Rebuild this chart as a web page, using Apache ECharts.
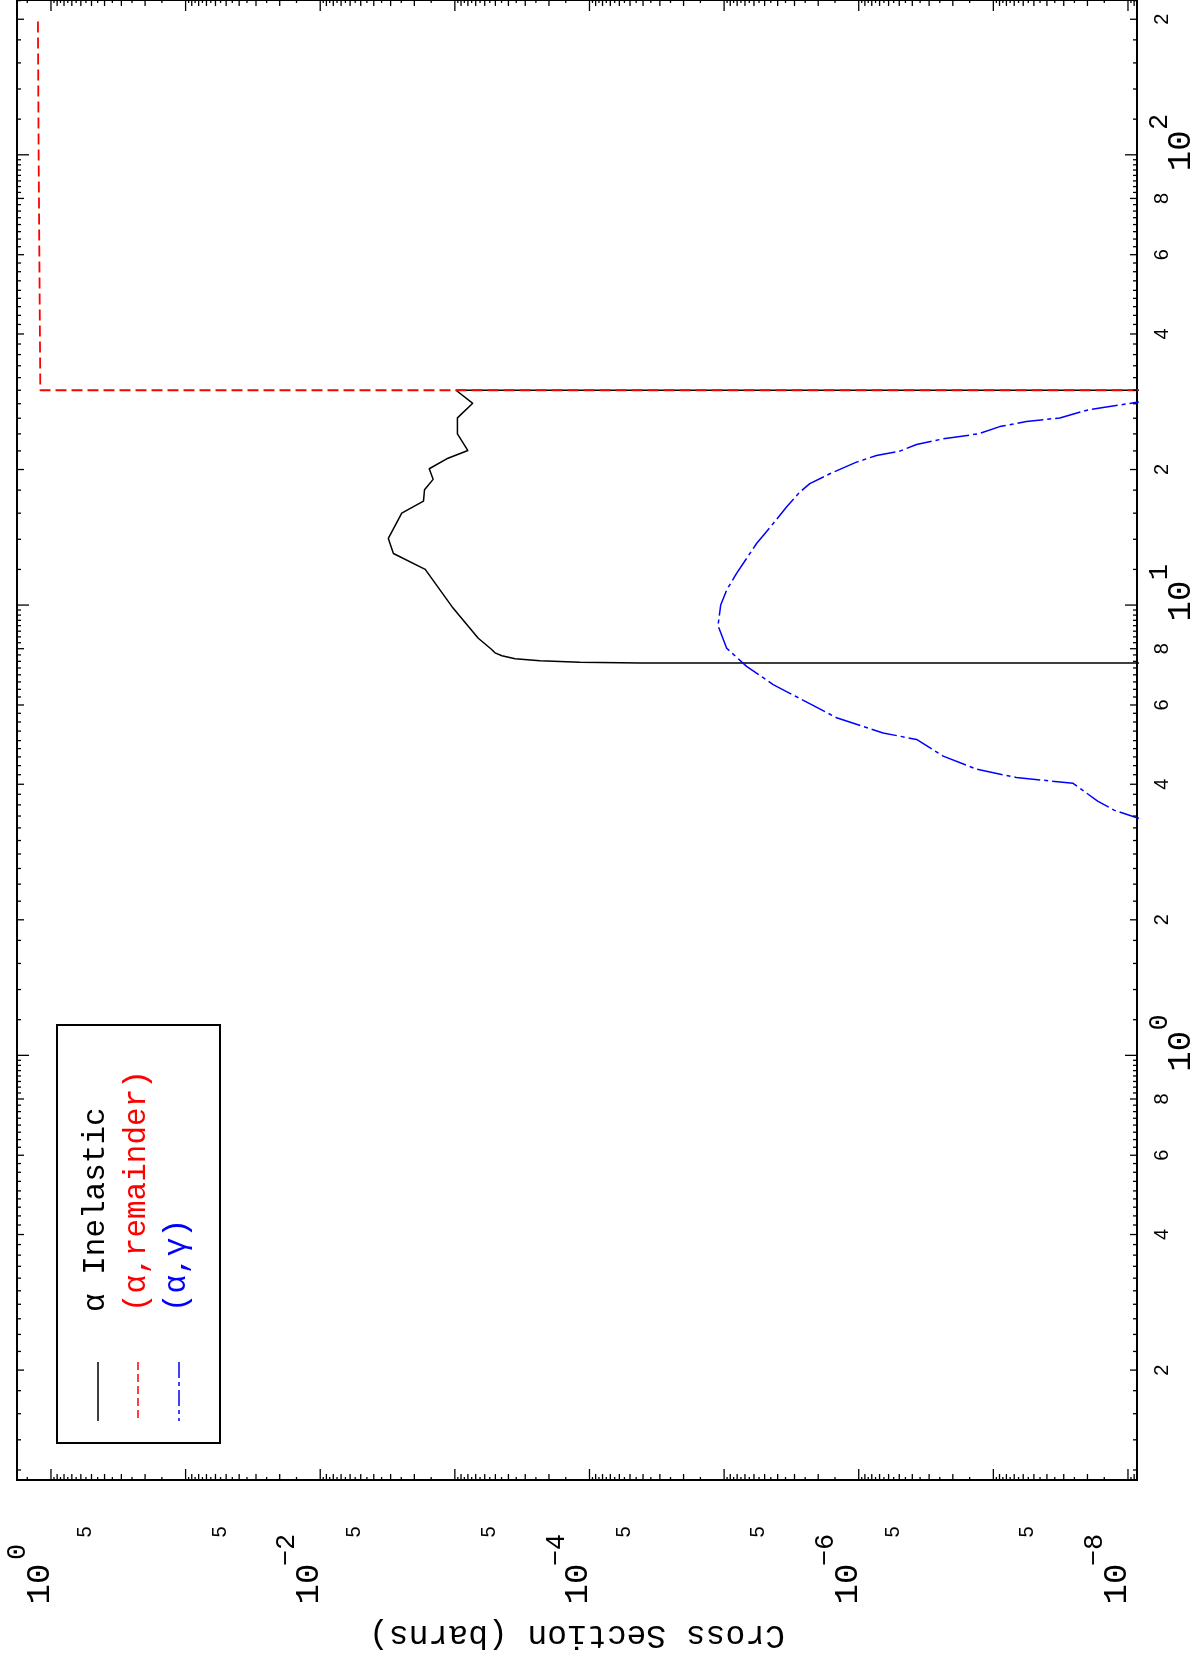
<!DOCTYPE html>
<html><head><meta charset="utf-8">
<script src="https://cdn.jsdelivr.net/npm/echarts@6/dist/echarts.min.js"></script>
<style>html,body{margin:0;padding:0;background:#fff}#c{width:1204px;height:1656px}</style>
</head><body><div id="c"></div>
<script>
// ---------------- data ----------------
// alpha inelastic (black, solid): energy (MeV) / cross section (barns)
const inelasticE  = [7.43, 7.434, 7.463, 7.521, 7.598, 7.715, 7.834, 7.99, 8.44, 9.92, 12.0, 13.02, 14.06, 16.01, 17.02, 18.04, 19.02, 20.08, 21.13, 22.04, 24.0, 26.05, 28.06, 30.0, 30.0];
const inelasticCS = [1e-12, 4.2e-5, 1.18e-4, 2.33e-4, 3.57e-4, 4.47e-4, 5.03e-4, 5.38e-4, 6.7e-4, 1.05e-3, 1.66e-3, 2.86e-3, 3.12e-3, 2.48e-3, 1.71e-3, 1.68e-3, 1.45e-3, 1.55e-3, 1.15e-3, 8.0e-4, 9.57e-4, 9.57e-4, 7.36e-4, 9.8e-4, 1e-12];
// (alpha, remainder) (red, dashed)
const remainderE  = [30.0, 30.0, 60.0, 100.0, 200.0];
const remainderCS = [1e-12, 1.20, 1.22, 1.235, 1.25];
// (alpha, gamma) (blue, dash-dot)
const gammaE  = [3.2, 3.37, 3.50, 3.67, 4.02, 4.14, 4.32, 4.62, 5.03, 5.20, 5.62, 6.01, 6.66, 7.31, 8.02, 9.0, 10.0, 10.8, 11.76, 12.69, 13.7, 15.17, 16.51, 17.82, 18.61, 19.57, 20.77, 21.49, 21.97, 22.73, 23.4, 24.0, 24.91, 25.56, 26.04, 27.13, 28.2, 30.0];
const gammaCS = [4e-9, 8.6e-9, 1.26e-8, 1.68e-8, 2.56e-8, 6.74e-8, 1.33e-7, 2.36e-7, 3.72e-7, 6.59e-7, 1.46e-6, 2.24e-6, 4.32e-6, 6.81e-6, 9.57e-6, 1.11e-5, 1.06e-5, 9.57e-6, 8.08e-6, 6.81e-6, 5.74e-6, 4.32e-6, 3.44e-6, 2.74e-6, 2.31e-6, 1.64e-6, 1.04e-6, 7.38e-7, 4.95e-7, 3.72e-7, 2.36e-7, 1.30e-7, 8.96e-8, 5.68e-8, 3.21e-8, 1.98e-8, 8.6e-9, 2.1e-9];

// axis ranges
const csRange = [8.57e-9, 1.788];
const eRange  = [0.114, 220.7];
// tick labels
const csDecadeLabels = [0, -2, -4, -6, -8];           // 10^k labels
const csFiveLabels   = [-1, -2, -3, -4, -5, -6, -7, -8]; // "5" at 5*10^k
const eDecadeLabels  = [0, 1, 2];
const eDigitLabels   = [2, 4, 6, 8];
const eDigitDecades  = [-1, 0, 1, 2];
const legendNames = ['\u03b1 Inelastic', '(\u03b1,remainder)', '(\u03b1,\u03b3)'];
const xTitle = 'Cross Section (barns)';

// ---------------- ticks ----------------
const inRange = (v, r) => v >= r[0] * 0.9999 && v <= r[1] * 1.0001;
const csTicks = [];
for (let k = -9; k <= 0; k++) {
  const d = Math.pow(10, k);
  if (inRange(d, csRange)) csTicks.push({v: d, len: 11});
  for (let m = 1.5; m < 10; m += 0.5) {
    const v = m * d;
    if (inRange(v, csRange)) csTicks.push({v, len: Number.isInteger(m) ? 6 : 3});
  }
}
const eTicks = [];
for (let k = -1; k <= 2; k++) {
  const d = Math.pow(10, k);
  if (inRange(d, eRange)) eTicks.push({v: d, len: 12});
  const ms = [];
  for (let m = 1.2; m < 4.99; m += 0.2) ms.push(Math.round(m * 100) / 100);
  for (let m = 5; m < 9.99; m += 0.25) ms.push(m);
  ms.forEach(m => {
    const v = m * d;
    if (inRange(v, eRange)) eTicks.push({v, len: [2, 4, 6, 8].includes(m) ? 7 : 4});
  });
}

// ---------------- labels ----------------
const LBL = '#000';
const csLabels = [];
csFiveLabels.forEach(k => csLabels.push({v: 5 * Math.pow(10, k), parts: [{t: '5', dx: -6, dy: 12, size: 20, fam: '"Liberation Sans"'}]}));
csDecadeLabels.forEach(k => csLabels.push({v: Math.pow(10, k), parts: [
  {t: '10', dx: -11, dy: 64, size: 34, fam: '"Liberation Mono"'},
  k === 0 ? {t: '0', dx: -33, dy: 32, size: 27, fam: '"Liberation Mono"'}
          : {t: '\u2212' + (-k), dx: -33, dy: 30, size: 27, fam: '"Liberation Mono"'}
]}));
const eLabels = [];
eDigitDecades.forEach(k => eDigitLabels.forEach(m => {
  const v = m * Math.pow(10, k);
  if (inRange(v, eRange)) eLabels.push({v, parts: [{t: String(m), dx: 25, dy: 0, size: 20, fam: '"Liberation Sans"'}]});
}));
eDecadeLabels.forEach(k => eLabels.push({v: Math.pow(10, k), parts: [
  {t: '10', dx: 44, dy: -4, size: 34, fam: '"Liberation Mono"'},
  {t: String(k), dx: 23, dy: -33, size: 27, fam: '"Liberation Mono"'}
]}));

function textEl(x, y, p) {
  return {type: 'text', x, y, rotation: Math.PI / 2,
    style: {text: p.t, fill: LBL, font: p.size + 'px ' + p.fam, align: 'center', verticalAlign: 'middle'}};
}

// ---------------- chart ----------------
const chart = echarts.init(document.getElementById('c'), null, {renderer: 'canvas'});
const pairs = (xs, ys) => xs.map((e, i) => [ys[i], e]);
const hidden = {axisLine: {show: false}, axisTick: {show: false}, axisLabel: {show: false}, splitLine: {show: false}};
const legendFont = '31px "Liberation Mono"';

chart.setOption({
  backgroundColor: '#fff',
  animation: false,
  grid: {left: 17, right: 67, top: -2, bottom: 173, show: true, borderColor: '#000', borderWidth: 2, backgroundColor: 'transparent'},
  xAxis: Object.assign({type: 'log', min: csRange[0], max: csRange[1], inverse: true,
    name: xTitle, nameLocation: 'middle', nameGap: 138, nameRotate: 180,
    nameTextStyle: {fontFamily: '"Liberation Mono"', fontSize: 33, color: '#000'}}, hidden),
  yAxis: Object.assign({type: 'log', min: eRange[0], max: eRange[1]}, hidden),
  graphic: [
    {type: 'rect', shape: {x: 57, y: 1025, width: 163, height: 418}, style: {fill: 'none', stroke: '#000', lineWidth: 2}, z: 50},
    {type: 'line', shape: {x1: 98, y1: 1362, x2: 98, y2: 1421}, style: {stroke: '#000', lineWidth: 1.5}, z: 50},
    {type: 'line', shape: {x1: 138, y1: 1362, x2: 138, y2: 1421}, style: {stroke: '#ff0000', lineWidth: 1.5, lineDash: [8, 4]}, z: 50},
    {type: 'line', shape: {x1: 179, y1: 1362, x2: 179, y2: 1421}, style: {stroke: '#0000ff', lineWidth: 1.5, lineDash: [16, 4, 4, 4]}, z: 50},
    {type: 'text', x: 96, y: 1312, rotation: Math.PI / 2, z: 50, style: {text: legendNames[0], fill: '#000', font: legendFont, align: 'left', verticalAlign: 'middle'}},
    {type: 'text', x: 137, y: 1312, rotation: Math.PI / 2, z: 50, style: {text: legendNames[1], fill: '#ff0000', font: legendFont, align: 'left', verticalAlign: 'middle'}},
    {type: 'text', x: 177, y: 1312, rotation: Math.PI / 2, z: 50, style: {text: legendNames[2], fill: '#0000ff', font: legendFont, align: 'left', verticalAlign: 'middle'}}
  ],
  series: [
    {type: 'line', name: legendNames[0], data: pairs(inelasticE, inelasticCS), showSymbol: false, symbol: 'none', clip: true,
     lineStyle: {color: '#000', width: 1.5}, z: 3},
    {type: 'line', name: legendNames[1], data: pairs(remainderE, remainderCS), showSymbol: false, symbol: 'none', clip: true,
     lineStyle: {color: '#ff0000', width: 1.8, type: [11, 5]}, z: 4},
    {type: 'line', name: legendNames[2], data: pairs(gammaE, gammaCS), showSymbol: false, symbol: 'none', clip: true,
     lineStyle: {color: '#0000ff', width: 1.5, type: [26, 4, 4, 4]}, z: 3},
    {type: 'custom', silent: true, data: csTicks.map(t => [t.v, 1]), z: 10,
     renderItem(params, api) {
       const t = csTicks[params.dataIndex]; const c = params.coordSys;
       const x = api.coord([t.v, 1])[0];
       const b = c.y + c.height, tp = c.y;
       return {type: 'group', children: [
         {type: 'line', shape: {x1: x, y1: b, x2: x, y2: b - t.len}, style: {stroke: '#000', lineWidth: 1.3}},
         {type: 'line', shape: {x1: x, y1: tp, x2: x, y2: tp + t.len}, style: {stroke: '#000', lineWidth: 1.3}}
       ]};
     }},
    {type: 'custom', silent: true, data: eTicks.map(t => [1, t.v]), z: 10,
     renderItem(params, api) {
       const t = eTicks[params.dataIndex]; const c = params.coordSys;
       const y = api.coord([1, t.v])[1];
       const l = c.x, r = c.x + c.width;
       return {type: 'group', children: [
         {type: 'line', shape: {x1: l, y1: y, x2: l + t.len, y2: y}, style: {stroke: '#000', lineWidth: 1.3}},
         {type: 'line', shape: {x1: r, y1: y, x2: r - t.len, y2: y}, style: {stroke: '#000', lineWidth: 1.3}}
       ]};
     }},
    {type: 'custom', silent: true, data: csLabels.map(t => [t.v, 1]), z: 10,
     renderItem(params, api) {
       const t = csLabels[params.dataIndex]; const c = params.coordSys;
       const x = api.coord([t.v, 1])[0];
       const base = c.y + c.height + 40;
       return {type: 'group', children: t.parts.map(p => textEl(x + p.dx, base + p.dy, p))};
     }},
    {type: 'custom', silent: true, data: eLabels.map(t => [1, t.v]), z: 10,
     renderItem(params, api) {
       const t = eLabels[params.dataIndex]; const c = params.coordSys;
       const y = api.coord([1, t.v])[1];
       const base = c.x + c.width;
       return {type: 'group', children: t.parts.map(p => textEl(base + p.dx, y + p.dy, p))};
     }}
  ]
});
</script></body></html>
